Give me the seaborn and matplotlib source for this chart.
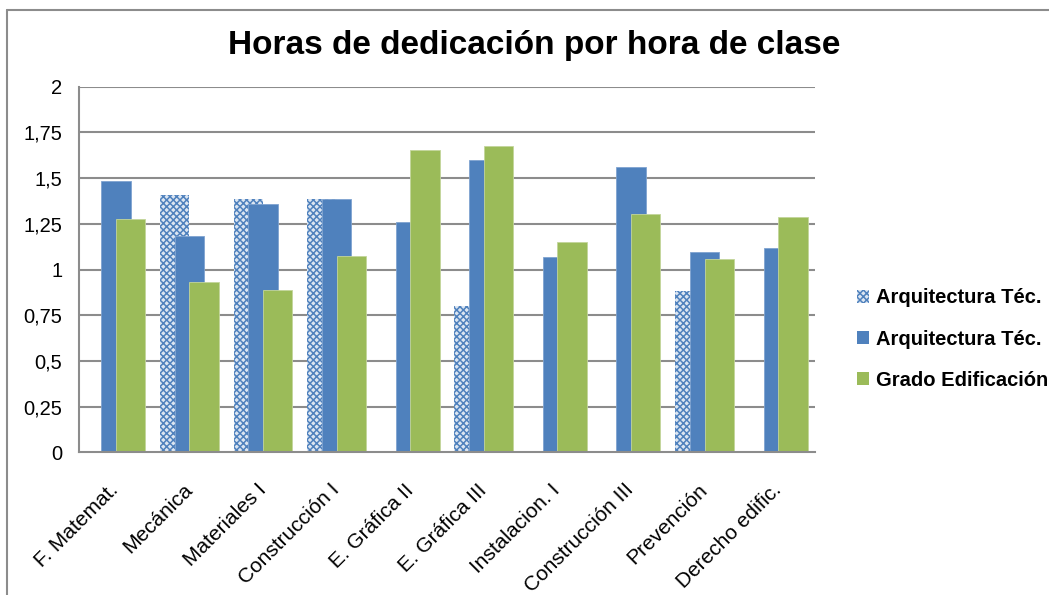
import numpy as np
import pandas as pd
import matplotlib
matplotlib.use("Agg")
import matplotlib.pyplot as plt
from matplotlib.patches import Patch
from matplotlib.lines import Line2D
from matplotlib.transforms import ScaledTranslation
import seaborn as sns

categories = ["F. Matemat.", "Mecánica", "Materiales I", "Construcción I", "E. Gráfica II",
              "E. Gráfica III", "Instalacion. I", "Construcción III", "Prevención", "Derecho edific."]
arq_tec_old = [np.nan, 1.41, 1.385, 1.385, np.nan, 0.80, np.nan, np.nan, 0.885, np.nan]
arq_tec = [1.485, 1.185, 1.36, 1.385, 1.26, 1.60, 1.07, 1.56, 1.095, 1.12]
grado_edif = [1.275, 0.93, 0.89, 1.075, 1.655, 1.675, 1.15, 1.305, 1.06, 1.285]
series_names = ["Arquitectura Téc.", "Arquitectura Téc.", "Grado Edificación"]
y_ticks = [0, 0.25, 0.5, 0.75, 1, 1.25, 1.5, 1.75, 2]
y_labels = ["0", "0,25", "0,5", "0,75", "1", "1,25", "1,5", "1,75", "2"]

sns.set_theme(style="white")
plt.rcParams["font.family"] = ["Liberation Sans", "DejaVu Sans"]
plt.rcParams["hatch.linewidth"] = 1.1
for key in ["text.color", "xtick.color", "ytick.color", "xtick.labelcolor", "ytick.labelcolor"]:
    plt.rcParams[key] = "black"

BLUE = "#4F81BD"
GREEN = "#9BBB59"
LIGHT = "#dce6f2"
GRID = "#8c8c8c"

fig = plt.figure(figsize=(10.49, 5.95), dpi=100)
ax = fig.add_axes([0.0753, 0.2398, 0.7017, 0.6145])

idx = np.arange(len(categories))
bar_w = 0.4
offsets = [-0.2, 0.0, 0.2]
all_series = [arq_tec_old, arq_tec, grado_edif]
styles = [
    dict(color=LIGHT, edgecolor=BLUE, hatch="xxxxx", linewidth=0),
    dict(color=BLUE, edgecolor="#7fa3d0", linewidth=0.6),
    dict(color=GREEN, edgecolor="#c3d69b", linewidth=0.6),
]

for vals, off, st in zip(all_series, offsets, styles):
    df = pd.DataFrame({"pos": idx + off, "val": vals}).dropna()
    sns.barplot(data=df, x="pos", y="val", native_scale=True, width=bar_w,
                errorbar=None, saturation=1, ax=ax, zorder=3, **st)

ax.set_xlim(-0.5, len(categories) - 0.5)
ax.set_ylim(0, 2)
ax.set_yticks(y_ticks)
ax.set_yticklabels(y_labels, fontsize=14.5)
ax.set_xticks(idx)
ax.set_xticklabels(categories, fontsize=15, rotation=45, ha="right", va="center",
                   rotation_mode="anchor")
shift = ScaledTranslation(4 / 100, 0, fig.dpi_scale_trans)
for lbl in ax.get_xticklabels():
    lbl.set_transform(lbl.get_transform() + shift)
ax.set_xlabel("")
ax.set_ylabel("")
ax.tick_params(axis="y", length=0, pad=12)
ax.tick_params(axis="x", length=0, pad=25)
for y in y_ticks[1:]:
    ax.axhline(y, color=GRID, lw=1.5, zorder=1)
for side in ["top", "right"]:
    ax.spines[side].set_visible(False)
for side in ["left", "bottom"]:
    ax.spines[side].set_color(GRID)
    ax.spines[side].set_linewidth(1.5)
ax.spines["bottom"].set_zorder(4)

fig.text(0.509, 0.924, "Horas de dedicación por hora de clase", ha="center", va="center",
         fontsize=24, fontweight="bold")

handles = [Patch(facecolor=LIGHT, edgecolor=BLUE, hatch="xxxxx", linewidth=0),
           Patch(facecolor=BLUE, linewidth=0),
           Patch(facecolor=GREEN, linewidth=0)]
fig.legend(handles, series_names, loc="center left", bbox_to_anchor=(0.800, 0.43),
           frameon=False, prop={"weight": "bold", "size": 14.5},
           handlelength=0.6, handleheight=0.6, handletextpad=0.35, labelspacing=1.1)

# chart frame
fig.add_artist(Line2D([7 / 1049, 7 / 1049], [0, 1 - 10 / 595], color=GRID, lw=1.5))
fig.add_artist(Line2D([7 / 1049, 1], [1 - 10 / 595, 1 - 10 / 595], color=GRID, lw=1.5))

fig.savefig("out.png", dpi=100)
